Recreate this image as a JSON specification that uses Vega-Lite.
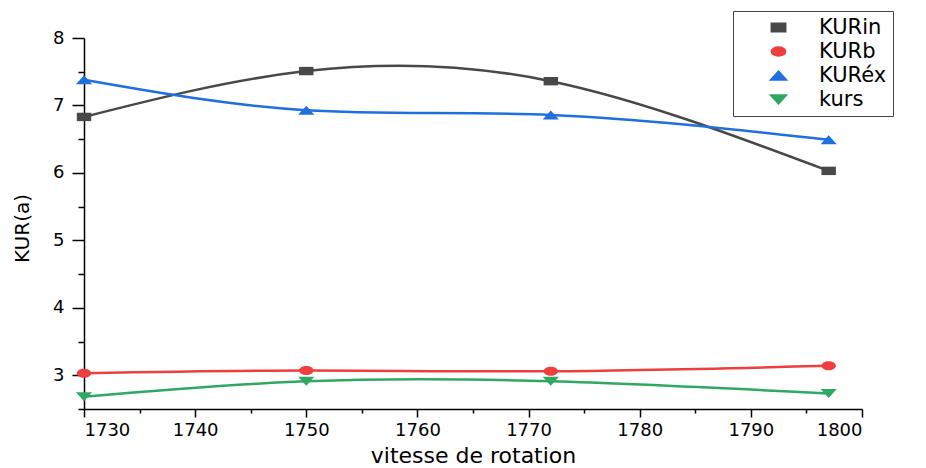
{
  "$schema": "https://vega.github.io/schema/vega-lite/v6.json",
  "width": 778,
  "height": 371,
  "autosize": {"type": "none"},
  "padding": {"left": 84, "top": 38, "right": 64, "bottom": 59},
  "background": "white",
  "config": {
    "view": {"stroke": null},
    "font": "DejaVu Sans",
    "axis": {"grid": false, "domainColor": "black", "domainWidth": 1.5, "ticks": true, "tickOpacity": 1, "tickColor": "black", "tickWidth": 1.5, "labelColor": "black", "titleColor": "black", "labelFont": "DejaVu Sans", "titleFont": "DejaVu Sans", "titleFontWeight": "normal"}
  },
  "data": {
    "values": [
      {"x": 1730, "y": 6.83, "series": "KURin"},
      {"x": 1750, "y": 7.51, "series": "KURin"},
      {"x": 1772, "y": 7.36, "series": "KURin"},
      {"x": 1797, "y": 6.03, "series": "KURin"},
      {"x": 1730, "y": 3.03, "series": "KURb"},
      {"x": 1750, "y": 3.07, "series": "KURb"},
      {"x": 1772, "y": 3.06, "series": "KURb"},
      {"x": 1797, "y": 3.14, "series": "KURb"},
      {"x": 1730, "y": 7.38, "series": "KURéx"},
      {"x": 1750, "y": 6.93, "series": "KURéx"},
      {"x": 1772, "y": 6.86, "series": "KURéx"},
      {"x": 1797, "y": 6.49, "series": "KURéx"},
      {"x": 1730, "y": 2.68, "series": "kurs"},
      {"x": 1750, "y": 2.91, "series": "kurs"},
      {"x": 1772, "y": 2.91, "series": "kurs"},
      {"x": 1797, "y": 2.73, "series": "kurs"}
    ]
  },
  "resolve": {"axis": {"x": "independent", "y": "independent"}},
  "layer": [
    {
      "mark": {"type": "line", "interpolate": "natural", "strokeWidth": 2.5},
      "encoding": {
        "x": {
          "field": "x", "type": "quantitative",
          "scale": {"domain": [1730, 1800], "nice": false, "zero": false},
          "axis": {
            "orient": "bottom",
            "title": "vitesse de rotation",
            "values": [1730, 1740, 1750, 1760, 1770, 1780, 1790, 1800],
            "format": "d",
            "tickSize": 8,
            "labelFontSize": 18,
            "labelPadding": 4,
            "titleFontSize": 22,
            "titlePadding": 6
          }
        },
        "y": {
          "field": "y", "type": "quantitative",
          "scale": {"domain": [2.5, 8], "nice": false, "zero": false},
          "axis": {
            "orient": "left",
            "title": "KUR(a)",
            "values": [3, 4, 5, 6, 7, 8],
            "format": "d",
            "tickSize": 12,
            "labelFontSize": 18,
            "labelPadding": 8,
            "titleFontSize": 20,
            "titleX": -52,
            "titleY": 190,
            "titleAnchor": "middle"
          }
        },
        "color": {
          "field": "series", "type": "nominal",
          "scale": {"domain": ["KURin", "KURb", "KURéx", "kurs"], "range": ["#484848", "#ef3e3e", "#1f6fdf", "#2ea863"]},
          "legend": {
            "title": null,
            "orient": "none",
            "legendX": 649,
            "legendY": -27,
            "padding": 6,
            "strokeColor": "#444",
            "fillColor": "white",
            "symbolSize": 144,
            "symbolOffset": 29,
            "labelOffset": 30,
            "labelFontSize": 21,
            "labelColor": "black",
            "labelFont": "DejaVu Sans",
            "rowPadding": 2
          }
        }
      }
    },
    {
      "mark": {"type": "point", "filled": true, "opacity": 1, "size": 144},
      "encoding": {
        "x": {"field": "x", "type": "quantitative", "axis": null},
        "y": {"field": "y", "type": "quantitative", "axis": null},
        "color": {"field": "series", "type": "nominal"},
        "shape": {
          "field": "series", "type": "nominal",
          "scale": {"domain": ["KURin", "KURb", "KURéx", "kurs"], "range": ["M-1.2,-0.7H1.2V0.7H-1.2Z", "M-1.2,0A1.2,0.75 0 1,0 1.2,0A1.2,0.75 0 1,0 -1.2,0Z", "M0,-0.75L1.35,0.75H-1.35Z", "M0,0.75L1.35,-0.75H-1.35Z"]},
          "legend": null
        }
      }
    },
    {
      "mark": {"type": "point", "opacity": 0, "size": 0},
      "encoding": {
        "x": {
          "field": "x", "type": "quantitative",
          "axis": {"orient": "bottom", "values": [1735, 1745, 1755, 1765, 1775, 1785, 1795], "tickSize": 4, "labels": false, "domain": false, "title": null}
        },
        "y": {
          "field": "y", "type": "quantitative",
          "axis": {"orient": "left", "values": [2.5, 3.5, 4.5, 5.5, 6.5, 7.5], "tickSize": 6, "labels": false, "domain": false, "title": null}
        }
      }
    }
  ]
}
